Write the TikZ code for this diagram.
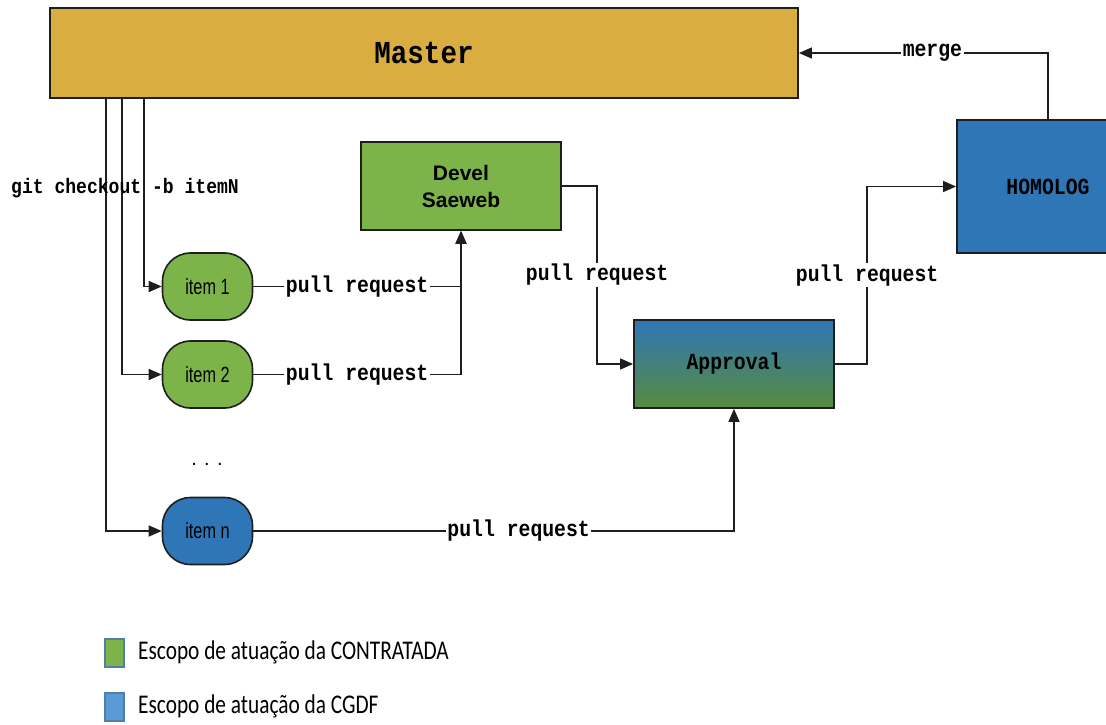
\documentclass[tikz,border=0pt]{standalone}
\usepackage{fontspec}
\setmainfont{Liberation Sans}
\newfontfamily\monofont[FakeStretch=0.86]{Liberation Mono}
\newfontfamily\itemfont[FakeStretch=0.74]{Liberation Sans}
\newfontfamily\legfont[FakeStretch=0.79]{Carlito}
\usetikzlibrary{arrows.meta}
\definecolor{mastercol}{RGB}{218,173,64}
\definecolor{greencol}{RGB}{124,180,74}
\definecolor{bluecol}{RGB}{46,118,182}
\definecolor{apbottom}{RGB}{88,140,62}
\definecolor{legblue}{RGB}{91,155,213}
\definecolor{legborder}{RGB}{80,125,170}
\definecolor{edgecol}{RGB}{30,30,30}
\tikzset{
  box/.style={draw=edgecol, line width=1.8pt, minimum width=#1, inner sep=0pt},
  itembox/.style={draw=edgecol, line width=1.6pt, rounded corners=28pt,
    minimum width=90pt, minimum height=67pt, inner sep=0pt,
    font=\itemfont\fontsize{22}{24}\selectfont},
  monolab/.style={font=\monofont\bfseries\fontsize{23}{26}\selectfont},
  prlab/.style={monolab, fill=white, inner sep=1.5pt},
  conn/.style={draw=edgecol, line width=1.5pt},
  arr/.style={conn, -{Triangle[length=13pt,width=11pt]}},
  legsq/.style={draw=legborder, line width=1.5pt, minimum width=19pt, minimum height=28pt, inner sep=0pt},
  legtxt/.style={anchor=west, inner sep=0pt, font=\legfont\fontsize{27}{30}\selectfont}
}
\begin{document}
\begin{tikzpicture}[x=1pt,y=-1pt]
\useasboundingbox (0,0) rectangle (1106,724);

% boxes
\node[box=748pt, minimum height=90pt, fill=mastercol,
      font=\monofont\bfseries\fontsize{32}{35}\selectfont] (master) at (424,53) {Master};
\node[box=200pt, minimum height=88pt, fill=greencol, align=center,
      font=\bfseries\fontsize{21}{27}\selectfont] (devel) at (461,186) {Devel\\Saeweb};
\node[box=200pt, minimum height=88pt, top color=bluecol, bottom color=apbottom,
      monolab] (approval) at (734,364) {Approval};
\node[box=182pt, minimum height=133pt, fill=bluecol, monolab] (homolog) at (1048,186.5) {HOMOLOG};

\node[itembox, fill=greencol] (item1) at (207.5,286.5) {item 1};
\node[itembox, fill=greencol] (item2) at (207.5,374.5) {item 2};
\node[itembox, fill=bluecol] (itemn) at (207.5,531) {item n};
\node[font=\fontsize{20}{22}\selectfont] (dots) at (207,464) {. . .};

% branch lines
\draw[arr] ([xshift=95pt]master.south west) |- (item1.west);
\draw[arr] ([xshift=73pt]master.south west) |- (item2.west);
\draw[arr] ([xshift=57pt]master.south west) |- (itemn.west);
\node[font=\monofont\bfseries\fontsize{21}{24}\selectfont] (gitlab) at (125,188) {git checkout -b itemN};

% pull requests
\draw[arr] (item1.east) -| node[prlab, pos=0.25] (pr1) {pull request} (devel.south);
\draw[arr] (item2.east) -| node[prlab, pos=0.25] (pr2) {pull request} (devel.south);
\draw[arr] (devel.east) -| node[prlab, pos=0.75] (pr3) {pull request} ([xshift=-36pt]approval.west) -- (approval.west);
\draw[arr] (approval.east) -| node[prlab, pos=0.75] (pr4) {pull request} ([xshift=-89pt]homolog.west) -- (homolog.west);
\draw[arr] (itemn.east) -| node[prlab, pos=0.276] (pr5) {pull request} (approval.south);
\draw[arr] (homolog.north) |- node[prlab, pos=0.732] (mergelab) {merge} (master.east);

% legend
\node[legsq, fill=greencol] (lg1) at (114.5,653) {};
\node[legtxt] (lt1) at (138,652) {Escopo de atuação da CONTRATADA};
\node[legsq, fill=legblue] (lg2) at (114.5,707) {};
\node[legtxt] (lt2) at (138,706) {Escopo de atuação da CGDF};
\end{tikzpicture}
\end{document}
